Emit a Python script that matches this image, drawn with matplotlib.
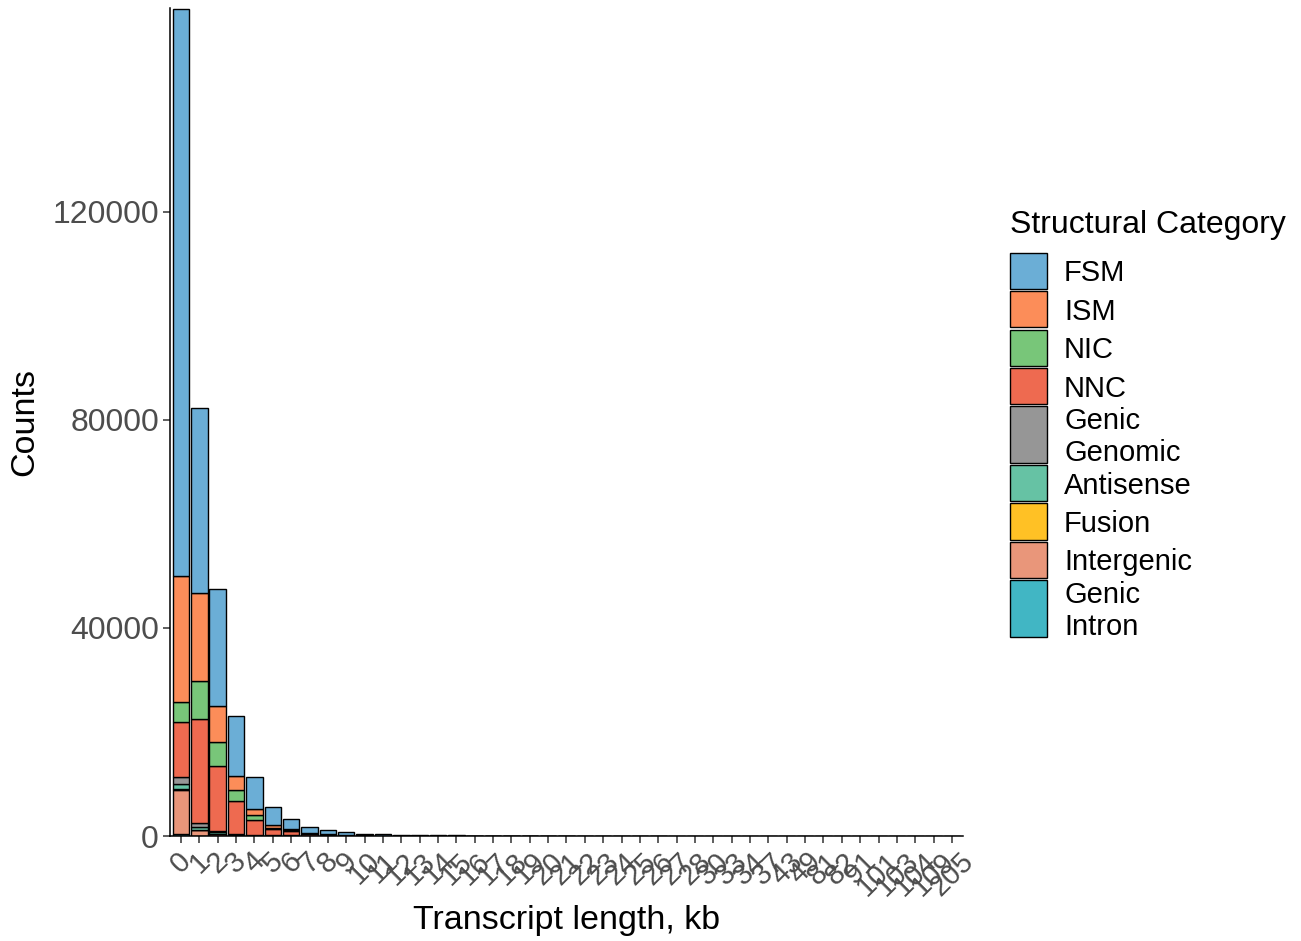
import numpy as np
import matplotlib
matplotlib.use('Agg')
import matplotlib.pyplot as plt
from matplotlib.patches import Rectangle

plt.rcParams['font.family'] = ['Liberation Sans', 'DejaVu Sans']

# transcript length bins (kb), treated as discrete categories
lengths = [str(i) for i in range(29)] + ['30', '33', '34', '37', '43', '49', '81', '82',
                                         '91', '101', '103', '104', '109', '205']
n = len(lengths)

def pad(v):
    return v + [0] * (n - len(v))

fsm = [109040, 35600, 22380, 11540, 6270, 3580, 1850, 1130, 770, 480,
       310, 240, 190, 137, 99, 79, 63, 47, 35, 28,
       23, 18, 15, 12, 9, 8, 6, 5, 4,
       3, 2, 2, 1, 1, 1, 1, 1, 1, 1, 1, 1, 1, 0]
ism = pad([24290, 16830, 7040, 2700, 1090, 480, 290, 120, 70, 40,
           25, 15, 10, 7, 5, 4, 3, 2, 2, 1])
nic = pad([3840, 7310, 4560, 2170, 960, 330, 170, 80, 45, 25, 15, 10, 6, 4, 3, 2])
nnc = pad([10580, 20000, 12440, 6350, 2890, 1100, 800, 380, 230, 130,
           80, 55, 40, 28, 20, 15, 12, 9, 7, 5, 4, 3, 3, 2, 2, 1, 1])
genic_genomic = pad([1290, 860, 300, 130, 55, 40, 25, 15, 8, 5, 3, 2])
antisense = pad([1000, 480, 260, 80, 40, 20, 10, 6, 3, 2])
fusion = pad([60, 120, 120, 60, 40, 60, 45, 30, 20, 15, 10, 8, 6, 4, 3, 2, 2, 2, 1, 1, 1, 1])
fusion[-1] = 1
intergenic = pad([8640, 1020, 300, 100, 50, 30, 15, 8, 4, 2])
genic_intron = pad([300, 80, 40, 10, 5, 3, 2, 1])

categories = ['FSM', 'ISM', 'NIC', 'NNC', 'Genic\nGenomic', 'Antisense',
              'Fusion', 'Intergenic', 'Genic\nIntron']
series = [fsm, ism, nic, nnc, genic_genomic, antisense, fusion, intergenic, genic_intron]
colors = ['#6BAED6', '#FC8D59', '#78C679', '#EE6A50', '#969696', '#66C2A4',
          '#FFC125', '#E9967A', '#41B6C4']

fig = plt.figure(figsize=(13.01, 9.41), dpi=100)
W, H = 1301, 941

# legend drawn by hand on a full-figure overlay (pixel coords, y down)
lax = fig.add_axes([0, 0, 1, 1])
lax.set_xlim(0, W)
lax.set_ylim(H, 0)
lax.axis('off')

ax = fig.add_axes([170 / W, 1 - 836 / H, (963 - 170) / W, (836 - 8) / H])

x = np.arange(n)
bottom = np.zeros(n)
# stack from the last category upwards so FSM ends up on top
for vals, col in zip(series[::-1], colors[::-1]):
    v = np.array(vals, dtype=float)
    m = v > 0
    ax.bar(x[m], v[m], bottom=bottom[m], width=0.9, color=col,
           edgecolor='black', linewidth=1.0)
    bottom += v

ax.set_xlim(-0.6, n - 1 + 0.6)
ax.set_ylim(0, 159200)
ax.set_yticks([0, 40000, 80000, 120000])
ax.set_yticklabels(['0', '40000', '80000', '120000'])
ax.set_xticks(x)
ax.set_xticklabels(lengths, rotation=45, ha='center', va='top')

for s in ['top', 'right']:
    ax.spines[s].set_visible(False)
for s in ['left', 'bottom']:
    ax.spines[s].set_linewidth(1.1)
    ax.spines[s].set_color('black')
ax.tick_params(axis='both', length=5, width=1.1, color='#333333',
               labelcolor='#4D4D4D', pad=3)
ax.tick_params(axis='y', labelsize=23)
ax.tick_params(axis='x', labelsize=21)

fig.text(25 / W, 1 - 422 / H, 'Counts', rotation=90, ha='center', va='center',
         fontsize=24.5)
fig.text(567 / W, 1 - 920 / H, 'Transcript length, kb', ha='center', va='center',
         fontsize=24.5)

lax.text(1010, 233, 'Structural Category', ha='left', va='baseline', fontsize=23)
cap, pitch = 21.0, 31.7
y = 252.7
for lab, col in zip(categories, colors):
    lines = lab.split('\n')
    h = 56.6 if len(lines) > 1 else 36.3
    lax.add_patch(Rectangle((1009.5, y), 37, h, facecolor=col, edgecolor='black',
                            linewidth=1.0))
    span = cap + (len(lines) - 1) * pitch
    base = y + h / 2 - span / 2 + cap
    for i, line in enumerate(lines):
        lax.text(1064, base + i * pitch, line, ha='left', va='baseline', fontsize=21)
    y += h + 2.1

fig.savefig('out.png', dpi=100)
